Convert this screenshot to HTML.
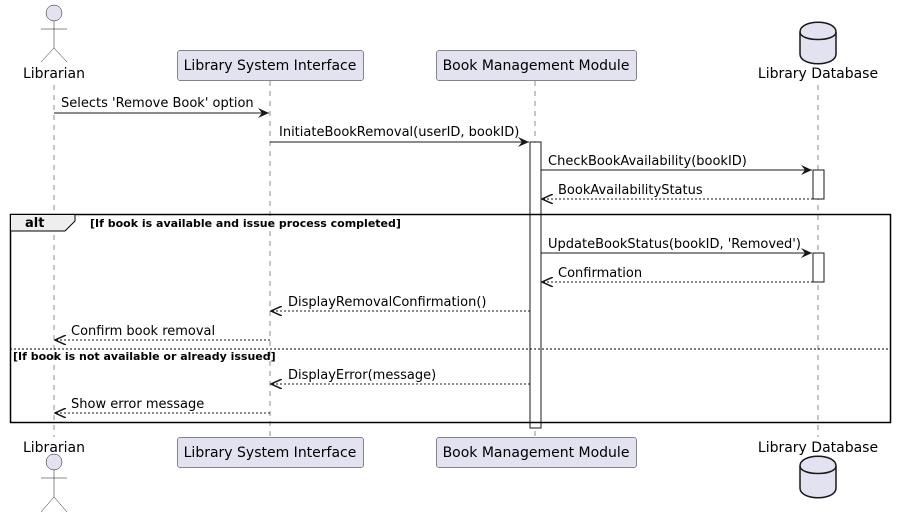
<!DOCTYPE html>
<html><head><meta charset="utf-8"><style>
html,body{margin:0;padding:0;background:#fff;}
svg{display:block;font-family:"DejaVu Sans","Liberation Sans",sans-serif;}
</style></head><body>
<svg width="897" height="518" viewBox="0 0 897 518" xmlns="http://www.w3.org/2000/svg">
<defs>
<marker id="a" markerWidth="12" markerHeight="10" refX="11" refY="5" orient="auto" markerUnits="userSpaceOnUse">
<path d="M0,0 L11,5 L0,10 L4,5 Z" fill="#181818"/>
</marker>
<marker id="o" markerWidth="12" markerHeight="10" refX="11" refY="5" orient="auto" markerUnits="userSpaceOnUse">
<path d="M0,0 L11,5 L0,10" fill="none" stroke="#181818" stroke-width="1.5"/>
</marker>
</defs>
<g stroke="#181818" stroke-width="0.5" stroke-dasharray="5,5">
<line x1="54" y1="85" x2="54" y2="437"/>
<line x1="270" y1="81" x2="270" y2="437"/>
<line x1="535" y1="81" x2="535" y2="437"/>
<line x1="818" y1="85" x2="818" y2="437"/>
</g>
<rect x="530" y="142" width="11" height="286" fill="#fff" stroke="#181818"/>
<rect x="813" y="170" width="11" height="29" fill="#fff" stroke="#181818"/>
<rect x="813" y="253" width="11" height="29" fill="#fff" stroke="#181818"/>
<circle cx="54" cy="13" r="8" fill="#E2E2F0" stroke="#181818" stroke-width="0.5"/>
<path d="M54,21 V48 M41,29 H67 M54,48 L41,62 M54,48 L67,62" stroke="#181818" stroke-width="0.5" fill="none"/>
<text x="54" y="78" font-size="14" text-anchor="middle" fill="#000">Librarian</text>
<rect x="177.5" y="50.5" width="186" height="30" rx="2.5" fill="#E2E2F0" stroke="#181818" stroke-width="0.5"/>
<text x="270" y="70" font-size="14" text-anchor="middle">Library System Interface</text>
<rect x="436.5" y="50.5" width="200" height="30" rx="2.5" fill="#E2E2F0" stroke="#181818" stroke-width="0.5"/>
<text x="536" y="70" font-size="14" text-anchor="middle">Book Management Module</text>
<path d="M800,32 C800,19 836,19 836,32 L836,54 C836,67 800,67 800,54 Z" fill="#E2E2F0" stroke="#181818" stroke-width="1.5"/>
<path d="M800,32 C800,42 836,42 836,32" fill="none" stroke="#181818" stroke-width="1.5"/>
<text x="818" y="78" font-size="14" text-anchor="middle">Library Database</text>
<text x="54" y="452" font-size="14" text-anchor="middle">Librarian</text>
<circle cx="54" cy="462" r="8" fill="#E2E2F0" stroke="#181818" stroke-width="0.5"/>
<path d="M54,470 V497 M41,478 H67 M54,497 L41,512 M54,497 L67,512" stroke="#181818" stroke-width="0.5" fill="none"/>
<rect x="177.5" y="437.5" width="186" height="30" rx="2.5" fill="#E2E2F0" stroke="#181818" stroke-width="0.5"/>
<text x="270" y="457" font-size="14" text-anchor="middle">Library System Interface</text>
<rect x="436.5" y="437.5" width="200" height="30" rx="2.5" fill="#E2E2F0" stroke="#181818" stroke-width="0.5"/>
<text x="536" y="457" font-size="14" text-anchor="middle">Book Management Module</text>
<path d="M800,466 C800,453 836,453 836,466 L836,488 C836,501 800,501 800,488 Z" fill="#E2E2F0" stroke="#181818" stroke-width="1.5"/>
<path d="M800,466 C800,476 836,476 836,466" fill="none" stroke="#181818" stroke-width="1.5"/>
<text x="818" y="452" font-size="14" text-anchor="middle">Library Database</text>
<rect x="10.5" y="214.5" width="880" height="208" fill="none" stroke="#000" stroke-width="1.5"/>
<path d="M10.5,214.5 H75 V221 L65,231 H10.5 Z" fill="#EEEEEE" stroke="#000" stroke-width="1"/>
<text x="25" y="227" font-size="13" font-weight="bold">alt</text>
<text x="90" y="227" font-size="11" font-weight="bold">[If book is available and issue process completed]</text>
<line x1="10" y1="349" x2="891" y2="349" stroke="#000" stroke-width="1" stroke-dasharray="2,2"/>
<text x="13" y="360" font-size="11" font-weight="bold">[If book is not available or already issued]</text>
<g font-size="13" fill="#000">
<line x1="54" y1="113" x2="269" y2="113" stroke="#181818" marker-end="url(#a)"/>
<text x="61" y="107">Selects 'Remove Book' option</text>
<line x1="270" y1="142" x2="529" y2="142" stroke="#181818" marker-end="url(#a)"/>
<text x="279" y="136">InitiateBookRemoval(userID, bookID)</text>
<line x1="541" y1="170" x2="812" y2="170" stroke="#181818" marker-end="url(#a)"/>
<text x="548" y="165">CheckBookAvailability(bookID)</text>
<line x1="813" y1="199" x2="542" y2="199" stroke="#181818" stroke-dasharray="2,2" marker-end="url(#o)"/>
<text x="558" y="194">BookAvailabilityStatus</text>
<line x1="541" y1="253" x2="812" y2="253" stroke="#181818" marker-end="url(#a)"/>
<text x="548" y="248">UpdateBookStatus(bookID, 'Removed')</text>
<line x1="813" y1="282" x2="542" y2="282" stroke="#181818" stroke-dasharray="2,2" marker-end="url(#o)"/>
<text x="558" y="277">Confirmation</text>
<line x1="530" y1="311" x2="271" y2="311" stroke="#181818" stroke-dasharray="2,2" marker-end="url(#o)"/>
<text x="288" y="306">DisplayRemovalConfirmation()</text>
<line x1="270" y1="340" x2="55" y2="340" stroke="#181818" stroke-dasharray="2,2" marker-end="url(#o)"/>
<text x="71" y="335">Confirm book removal</text>
<line x1="530" y1="384" x2="271" y2="384" stroke="#181818" stroke-dasharray="2,2" marker-end="url(#o)"/>
<text x="288" y="379">DisplayError(message)</text>
<line x1="270" y1="413" x2="55" y2="413" stroke="#181818" stroke-dasharray="2,2" marker-end="url(#o)"/>
<text x="71" y="408">Show error message</text>
</g>
</svg>
</body></html>
